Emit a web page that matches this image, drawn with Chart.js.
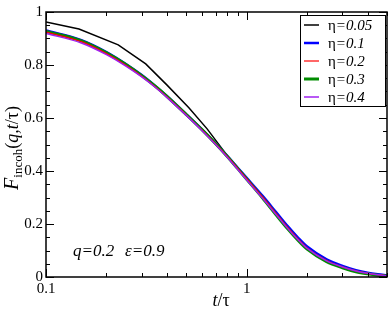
<!DOCTYPE html>
<html>
<head>
<meta charset="utf-8">
<script src="https://cdn.jsdelivr.net/npm/chart.js@4/dist/chart.umd.min.js"></script>
<style>
  html, body { margin: 0; padding: 0; background: #fff; }
  #wrap { width: 390px; height: 310px; }
</style>
</head>
<body>
<div id="wrap"><canvas id="myChart" width="390" height="310"></canvas></div>
<script>
// time points t/tau
var tValues = [0.1, 0.15, 0.2, 0.25, 0.3, 0.35, 0.4, 0.5, 0.6, 0.7, 0.8, 0.9, 1.0,
               1.2, 1.4, 1.6, 1.8, 2.0, 2.5, 3.0, 3.5, 4.0, 4.5, 5.0];
// eta = 0.05 was sampled more coarsely
var tBlack = [0.1, 0.146, 0.229, 0.314, 0.401, 0.515, 0.635, 0.8, 1.0, 1.2, 1.5, 2.0, 2.5, 3.0, 4.0, 5.0];

var eta005 = [0.962, 0.936, 0.876, 0.804, 0.724, 0.639, 0.559, 0.458, 0.370, 0.301, 0.212, 0.108, 0.061, 0.037, 0.013, 0.004];
var eta01  = [0.930, 0.894, 0.849, 0.804, 0.762, 0.721, 0.683, 0.614, 0.556, 0.504, 0.457, 0.413, 0.374, 0.306, 0.245, 0.192, 0.149, 0.115, 0.067, 0.042, 0.026, 0.016, 0.010, 0.006];
var eta02  = [0.924, 0.888, 0.843, 0.799, 0.758, 0.718, 0.680, 0.612, 0.554, 0.502, 0.455, 0.411, 0.371, 0.302, 0.240, 0.187, 0.144, 0.110, 0.062, 0.038, 0.023, 0.014, 0.0085, 0.005];
var eta03  = [0.927, 0.891, 0.846, 0.802, 0.760, 0.720, 0.682, 0.613, 0.555, 0.503, 0.455, 0.410, 0.369, 0.298, 0.235, 0.182, 0.139, 0.105, 0.058, 0.035, 0.020, 0.012, 0.007, 0.004];
var eta04  = [0.919, 0.883, 0.839, 0.796, 0.755, 0.716, 0.678, 0.610, 0.552, 0.500, 0.452, 0.407, 0.366, 0.297, 0.236, 0.183, 0.141, 0.108, 0.061, 0.038, 0.023, 0.014, 0.0085, 0.005];

var seriesNames = ['0.05', '0.1', '0.2', '0.3', '0.4'];
var seriesColors = ['#000000', '#0000ff', '#ff0000', '#008c00', '#a020f0'];
var seriesWidths = [1.5, 2.5, 1.2, 3, 1.5];
var seriesOrder = [5, 4, 2, 3, 1]; // higher = drawn underneath

var yTickLabels = [0, 0.2, 0.4, 0.6, 0.8, 1];

function pairs(xs, ys) {
    return xs.map(function (x, i) { return { x: x, y: ys[i] }; });
}

var allSeries = [pairs(tBlack, eta005), pairs(tValues, eta01), pairs(tValues, eta02),
                 pairs(tValues, eta03), pairs(tValues, eta04)];

var serif = '"Liberation Serif", "DejaVu Serif", serif';

// frame, minor/major ticks, legend and labels
var decorPlugin = {
    id: 'decor',
    afterDraw: function (chart) {
        var ctx = chart.ctx;
        var a = chart.chartArea;
        var xs = chart.scales.x, ys = chart.scales.y;
        ctx.save();
        ctx.strokeStyle = '#000';
        ctx.lineWidth = 1.5;
        ctx.strokeRect(a.left, a.top, a.right - a.left, a.bottom - a.top);

        ctx.lineWidth = 1;
        ctx.beginPath();
        // y ticks every 0.05
        for (var k = 0; k <= 20; k++) {
            var v = k * 0.05;
            var py = Math.round(ys.getPixelForValue(v)) + 0.5;
            var len = (k % 4 === 0) ? 8 : 4;
            ctx.moveTo(a.left, py); ctx.lineTo(a.left + len, py);
            ctx.moveTo(a.right, py); ctx.lineTo(a.right - len, py);
        }
        // x ticks (log)
        var xt = [0.1, 0.2, 0.3, 0.4, 0.5, 0.6, 0.7, 0.8, 0.9, 1, 2, 3, 4, 5];
        xt.forEach(function (v) {
            var px = Math.round(xs.getPixelForValue(v)) + 0.5;
            var len = (v === 0.1 || v === 1) ? 8 : 4;
            ctx.moveTo(px, a.bottom); ctx.lineTo(px, a.bottom - len);
            ctx.moveTo(px, a.top); ctx.lineTo(px, a.top + len);
        });
        ctx.stroke();

        // legend
        ctx.fillStyle = '#fff';
        ctx.fillRect(300, 15, 85, 92);
        ctx.strokeStyle = '#000';
        ctx.lineWidth = 1;
        ctx.strokeRect(300.5, 15.5, 85, 91);
        ctx.textBaseline = 'middle';
        ctx.textAlign = 'left';
        for (var i = 0; i < seriesNames.length; i++) {
            var ly = 25 + i * 18;
            ctx.strokeStyle = seriesColors[i];
            ctx.lineWidth = seriesWidths[i];
            ctx.beginPath();
            ctx.moveTo(304, ly); ctx.lineTo(319, ly);
            ctx.stroke();
            ctx.fillStyle = '#000';
            ctx.font = '15px ' + serif;
            ctx.fillText('\u03b7', 328, ly + 1);
            var w = ctx.measureText('\u03b7').width;
            ctx.font = 'italic 15px ' + serif;
            ctx.fillText('=' + seriesNames[i], 328 + w, ly + 1);
        }

        // parameter note
        ctx.textBaseline = 'alphabetic';
        ctx.fillStyle = '#000';
        ctx.font = 'italic 17px ' + serif;
        ctx.fillText('q=0.2', 73, 256);
        ctx.fillText('\u03b5=0.9', 125, 256);

        // x title
        ctx.font = 'italic 18px ' + serif;
        var wt = ctx.measureText('t').width;
        ctx.font = '18px ' + serif;
        var wr = ctx.measureText('/\u03c4').width;
        var x0 = 221 - (wt + wr) / 2;
        ctx.font = 'italic 18px ' + serif;
        ctx.fillText('t', x0, 306);
        ctx.font = '18px ' + serif;
        ctx.fillText('/\u03c4', x0 + wt, 306);

        // y title, rotated
        var parts = [
            { s: 'F', f: 'italic 20px ' + serif, dy: 0 },
            { s: 'incoh', f: '13px ' + serif, dy: 4 },
            { s: '(', f: '18px ' + serif, dy: 0 },
            { s: 'q,t', f: 'italic 18px ' + serif, dy: 0 },
            { s: '/\u03c4)', f: '18px ' + serif, dy: 0 }
        ];
        var total = 0;
        parts.forEach(function (p) { ctx.font = p.f; p.w = ctx.measureText(p.s).width; total += p.w; });
        ctx.translate(18, 148);
        ctx.rotate(-Math.PI / 2);
        var cx = -total / 2;
        parts.forEach(function (p) {
            ctx.font = p.f;
            ctx.fillText(p.s, cx, p.dy);
            cx += p.w;
        });
        ctx.restore();
    }
};

var chartArea = document.getElementById('myChart').getContext('2d');

var myChart = new Chart(chartArea, {
    type: 'line',
    data: {
        datasets: allSeries.map(function (d, i) {
            return {
                label: '\u03b7=' + seriesNames[i],
                data: d,
                borderColor: seriesColors[i],
                borderWidth: seriesWidths[i],
                pointRadius: 0,
                cubicInterpolationMode: i === 0 ? 'default' : 'monotone',
                tension: i === 0 ? 0 : 0.4,
                fill: false,
                order: seriesOrder[i]
            };
        })
    },
    options: {
        responsive: false,
        animation: false,
        layout: { padding: { top: 5, right: 2, left: 0, bottom: 0 } },
        plugins: {
            legend: { display: false },
            tooltip: { enabled: false }
        },
        scales: {
            x: {
                type: 'logarithmic',
                min: 0.1,
                max: 5,
                border: { display: false },
                grid: { display: false, drawTicks: false },
                afterFit: function (s) { s.height = 33; },
                ticks: {
                    autoSkip: false,
                    maxRotation: 0,
                    padding: 3,
                    color: '#000',
                    font: { family: serif, size: 15 },
                    callback: function (v) {
                        if (Math.abs(v - 0.1) < 1e-9) return '0.1';
                        if (Math.abs(v - 1) < 1e-9) return '1';
                        return '';
                    }
                }
            },
            y: {
                min: 0,
                max: 1,
                border: { display: false },
                grid: { display: false, drawTicks: false },
                afterFit: function (s) { s.width = 46; },
                afterBuildTicks: function (s) {
                    s.ticks = yTickLabels.map(function (v) { return { value: v }; });
                },
                ticks: {
                    padding: 3,
                    color: '#000',
                    font: { family: serif, size: 15 },
                    callback: function (v) { return String(v); }
                }
            }
        }
    },
    plugins: [decorPlugin]
});
</script>
</body>
</html>
